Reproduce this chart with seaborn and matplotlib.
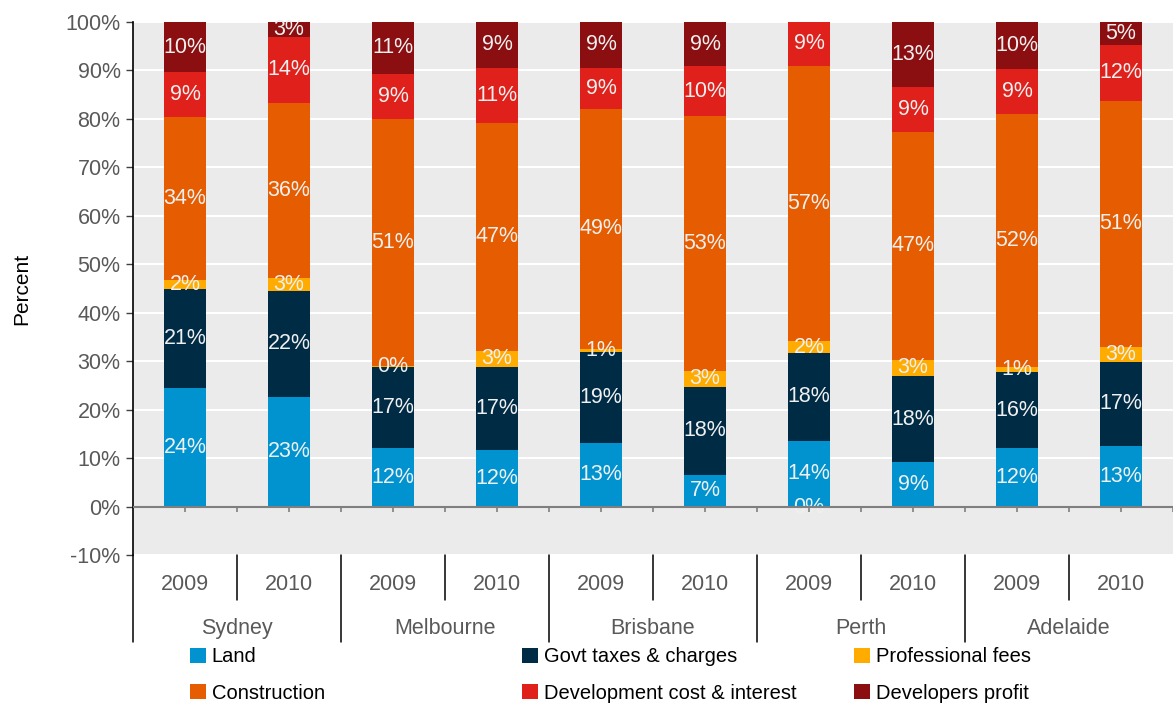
import numpy as np
import pandas as pd
import seaborn as sns
import matplotlib.pyplot as plt
from matplotlib.patches import Patch
import matplotlib.transforms as mtransforms

# Data (share of dwelling cost, %)
cities = ["Sydney", "Melbourne", "Brisbane", "Perth", "Adelaide"]
years = ["2009", "2010"]
components = ["Land", "Govt taxes & charges", "Professional fees",
              "Construction", "Development cost & interest", "Developers profit"]

land = [24.4, 22.7, 12.0, 11.6, 13.2, 6.6, 13.6, 9.1, 12.0, 12.6]
govt = [20.6, 21.8, 16.7, 17.3, 18.6, 18.1, 18.1, 17.9, 15.8, 17.3]
prof_fees = [1.7, 2.7, 0.4, 3.2, 0.8, 3.3, 2.4, 3.3, 1.1, 3.1]
construction = [33.6, 36.1, 50.9, 47.1, 49.4, 52.6, 56.9, 47.0, 52.1, 50.7]
dev_cost = [9.3, 13.6, 9.3, 11.4, 8.6, 10.3, 9.3, 9.3, 9.3, 11.6]
dev_profit = [10.4, 3.1, 10.7, 9.4, 9.4, 9.1, -0.3, 13.4, 9.7, 4.7]

colors = ["#0093d0", "#002b45", "#ffab00", "#e65c00", "#e0201b", "#8b0e10"]

series = [land, govt, prof_fees, construction, dev_cost, dev_profit]
bar_ids = [f"{c} {y}" for c in cities for y in years]

sns.set_style("darkgrid", {"axes.facecolor": "#ebebeb", "grid.color": "white"})
plt.rcParams["font.family"] = ["Liberation Sans", "DejaVu Sans"]

fig = plt.figure(figsize=(11.73, 7.03), dpi=100)
ax = fig.add_axes([0.1134, 0.2105, 0.8866, 0.7582])

pos_base = np.zeros(len(bar_ids))
neg_base = np.zeros(len(bar_ids))
for name, vals, col in zip(components, series, colors):
    vals = np.array(vals)
    bottom = np.where(vals >= 0, pos_base, neg_base)
    df = pd.DataFrame({"bar": bar_ids, "value": vals})
    sns.barplot(data=df, x="bar", y="value", order=bar_ids, color=col,
                saturation=1, width=0.41, bottom=bottom, linewidth=0,
                errorbar=None, ax=ax, zorder=2)
    for i, v in enumerate(vals):
        ax.text(i, bottom[i] + v / 2, f"{round(v)}%", ha="center", va="center",
                color="#f0f0f0", fontsize=15.5, zorder=3)
    pos_base = pos_base + np.where(vals >= 0, vals, 0)
    neg_base = neg_base + np.where(vals < 0, vals, 0)

ax.set_ylim(-10, 100)
ax.set_xlim(-0.5, len(bar_ids) - 0.5)
ax.set_yticks(np.arange(-10, 101, 10))
ax.set_yticklabels([f"{t}%" for t in range(-10, 101, 10)])
ax.grid(axis="y", color="white", lw=1.5, zorder=0)
ax.grid(axis="x", visible=False)
ax.set_axisbelow(True)
ax.tick_params(axis="y", length=5, width=1, color="#404040", labelsize=15.5,
               labelcolor="#595959", left=True, pad=4)
ax.tick_params(axis="x", length=0, labelbottom=False)
ax.set_xlabel("")
ax.set_ylabel("Percent", fontsize=15, color="black")
ax.yaxis.set_label_coords(-0.098, 0.5)
for s in ["top", "right", "bottom"]:
    ax.spines[s].set_visible(False)
ax.spines["left"].set_visible(True)
ax.spines["left"].set_color("black")
ax.spines["left"].set_linewidth(1.2)

# zero line with small category ticks
ax.axhline(0, color="#7f7f7f", lw=1.5, zorder=4)
ax.vlines(np.arange(0, len(bar_ids), 0.5), -1.1, 0, color="#7f7f7f", lw=1.2, zorder=4)

# two-level category axis underneath
trans = mtransforms.blended_transform_factory(ax.transData, ax.transAxes)
for i, bid in enumerate(bar_ids):
    ax.text(i, -0.056, bid.split()[1], transform=trans, ha="center", va="center",
            fontsize=15.5, color="#595959")
for k, c in enumerate(cities):
    ax.text(2 * k + 0.5, -0.137, c, transform=trans, ha="center", va="center",
            fontsize=15.5, color="#595959")
for j in range(len(bar_ids)):
    edge = j - 0.5
    y_end = -0.164 if j % 2 == 0 else -0.085
    ax.plot([edge, edge], [0, y_end], transform=trans, color="black", lw=1.1,
            clip_on=False)

# legend in three columns
handles = [Patch(facecolor=c, edgecolor="none") for c in colors]
col_x = [0.162, 0.445, 0.728]
for k in range(3):
    idx = [k, k + 3]
    fig.legend([handles[i] for i in idx], [components[i] for i in idx],
               loc="upper left", bbox_to_anchor=(col_x[k], 0.079), frameon=False,
               fontsize=14.5, labelcolor="black", handlelength=0.78,
               handleheight=0.78, handletextpad=0.3, labelspacing=0.85,
               borderpad=0, borderaxespad=0)

fig.savefig("out.png", dpi=100)
